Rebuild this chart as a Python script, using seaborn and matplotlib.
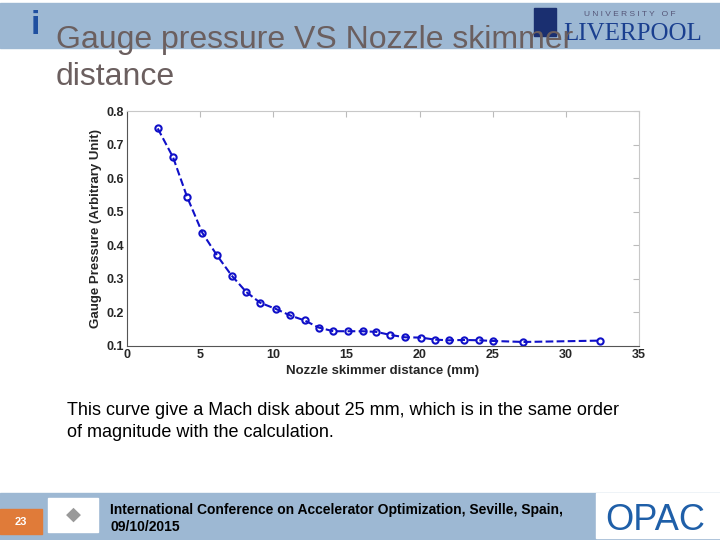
import matplotlib
matplotlib.use("Agg")
import matplotlib.pyplot as plt
import seaborn as sns
import pandas as pd
from matplotlib.patches import Rectangle

distance_mm = [2.1, 3.15, 4.1, 5.15, 6.15, 7.15, 8.15, 9.1, 10.2, 11.15, 12.15, 13.1,
               14.1, 15.1, 16.1, 17.05, 18.0, 19.0, 20.1, 21.05, 22.0, 23.05, 24.05,
               25.05, 27.1, 32.3]
pressure = [0.748, 0.662, 0.545, 0.437, 0.370, 0.310, 0.261, 0.229, 0.210, 0.191, 0.176,
            0.155, 0.144, 0.144, 0.144, 0.142, 0.133, 0.126, 0.125, 0.119, 0.117, 0.118,
            0.117, 0.115, 0.112, 0.116]
x_ticks = [0, 5, 10, 15, 20, 25, 30, 35]
y_ticks = [0.1, 0.2, 0.3, 0.4, 0.5, 0.6, 0.7, 0.8]

title_text = "Gauge pressure VS Nozzle skimmer\ndistance"
body_text = ("This curve give a Mach disk about 25 mm, which is in the same order\n"
             "of magnitude with the calculation.")
footer_text = "International Conference on Accelerator Optimization, Seville, Spain,\n09/10/2015"
slide_no = "23"

sns.set_style("white")
plt.rcParams['font.family'] = ['Liberation Sans', 'DejaVu Sans']

W, H = 720, 540
fig = plt.figure(figsize=(7.2, 5.4), dpi=100)

band = "#9db8d3"
# header band
fig.patches.append(Rectangle((0, 1 - 48 / H), 1, 45 / H, transform=fig.transFigure,
                             color=band, zorder=0))
# footer band
fig.patches.append(Rectangle((0, 0), 1, 47 / H, transform=fig.transFigure,
                             color=band, zorder=0))
# slide number box
fig.patches.append(Rectangle((0, 6 / H), 42 / W, 25 / H, transform=fig.transFigure,
                             color="#e07b39", zorder=1))
fig.text(21 / W, 18 / H, slide_no, color="white", fontsize=8, fontweight="bold",
         ha="center", va="center")
# logo placeholders
fig.patches.append(Rectangle((48 / W, 8 / H), 50 / W, 34 / H, transform=fig.transFigure,
                             color="white", zorder=1))
fig.text(73 / W, 25 / H, "◆", color="#999999", fontsize=14, ha="center", va="center",
         zorder=2)
fig.patches.append(Rectangle((596 / W, 2 / H), 124 / W, 45 / H, transform=fig.transFigure,
                             color="white", zorder=1))
fig.text(655 / W, 20 / H, "OPAC", color="#1f5fa8", fontsize=26, ha="center",
         va="center", zorder=2)
fig.text(630 / W, 1 - 15 / H, "U N I V E R S I T Y   O F", color="#555577", fontsize=6,
         ha="center", va="center")
fig.text(633 / W, 1 - 34 / H, "LIVERPOOL", color="#1a3f8f", fontsize=18,
         family="Liberation Serif", ha="center", va="center")
fig.patches.append(Rectangle((534 / W, 1 - 36 / H), 22 / W, 28 / H,
                             transform=fig.transFigure, color="#1a2f70", zorder=1))
fig.text(35 / W, 1 - 25 / H, "i", color="#1f4fa0", fontsize=24, fontweight="bold",
         ha="center", va="center")

# title
fig.text(56 / W, 1 - 25 / H, title_text, color="#6b5f5f", fontsize=23,
         ha="left", va="top", linespacing=1.3)

# body text
fig.text(67 / W, 1 - 402 / H, body_text, color="black", fontsize=13,
         ha="left", va="top", linespacing=1.35)

# footer text
fig.text(110 / W, 1 - 503 / H, footer_text, color="black", fontsize=10,
         fontweight="bold", ha="left", va="top", linespacing=1.25)

# plot
ax = fig.add_axes([127 / W, 1 - 346 / H, (639 - 127) / W, (346 - 111) / H])
df = pd.DataFrame({"distance": distance_mm, "pressure": pressure})
sns.lineplot(data=df, x="distance", y="pressure", ax=ax, color="#1010c8",
             linestyle="--", linewidth=1.5, marker="o", markersize=4.5,
             markerfacecolor="none", markeredgecolor="#1010c8", markeredgewidth=1.5)
ax.set_xlim(0, 35)
ax.set_ylim(0.1, 0.8)
ax.set_xticks(x_ticks)
ax.set_yticks(y_ticks)
ax.set_xticklabels([str(t) for t in x_ticks])
ax.set_yticklabels([f"{t:.1f}" for t in y_ticks])
ax.tick_params(direction="in", length=4, color="#bbbbbb", labelsize=9,
               top=True, right=True, pad=2)
for lbl in ax.get_xticklabels() + ax.get_yticklabels():
    lbl.set_fontweight("bold")
ax.set_xlabel("Nozzle skimmer distance (mm)", fontsize=9.5, fontweight="bold", labelpad=3)
ax.set_ylabel("Gauge Pressure (Arbitrary Unit)", fontsize=9.5, fontweight="bold", labelpad=3)
for s in ["top", "right"]:
    ax.spines[s].set_color("#c8c8c8")
for s in ["left", "bottom"]:
    ax.spines[s].set_color("#555555")
for s in ax.spines.values():
    s.set_linewidth(0.8)
ax.grid(False)

fig.savefig("out.png", dpi=100)
